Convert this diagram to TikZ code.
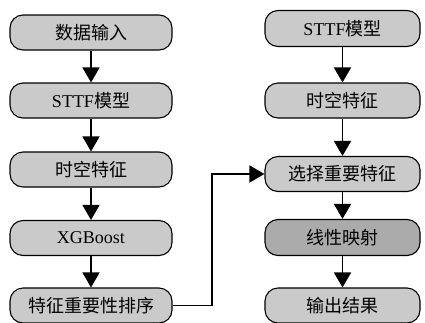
\documentclass[tikz,border=0pt]{standalone}
\usepackage{fontspec}
\setmainfont{Liberation Serif}
\newfontfamily\cjk{Noto Sans CJK SC}
\usetikzlibrary{arrows.meta}
\definecolor{boxfill}{HTML}{CACACA}
\definecolor{boxdark}{HTML}{ABABAB}
\tikzset{
  flowbox/.style={draw=black, line width=1.1pt, fill=boxfill, rounded corners=13pt,
    inner sep=0pt, font=\fontsize{18}{20}\selectfont},
  flowarrow/.style={line width=1.6pt, -{Triangle[width=17pt,length=15pt]}}
}
\begin{document}
\begin{tikzpicture}[x=1pt,y=-1pt]
\useasboundingbox (0,0) rectangle (425,322);
% left column
\node[flowbox, minimum width=162pt, minimum height=35pt] (l1) at (91,32.5) {\cjk 数据输入};
\node[flowbox, minimum width=162pt, minimum height=35pt] (l2) at (91,100.5) {STTF\cjk 模型};
\node[flowbox, minimum width=162pt, minimum height=35pt] (l3) at (91,169.5) {\cjk 时空特征};
\node[flowbox, minimum width=162pt, minimum height=35pt] (l4) at (91,238) {XGBoost};
\node[flowbox, minimum width=162pt, minimum height=35pt] (l5) at (91,305.5) {\cjk 特征重要性排序};
% right column
\node[flowbox, minimum width=155pt, minimum height=36pt] (r1) at (342.5,28.5) {STTF\cjk 模型};
\node[flowbox, minimum width=155pt, minimum height=35pt] (r2) at (342.5,100.5) {\cjk 时空特征};
\node[flowbox, minimum width=155pt, minimum height=35pt] (r3) at (342.5,174) {\cjk 选择重要特征};
\node[flowbox, fill=boxdark, minimum width=155pt, minimum height=36pt] (r4) at (342.5,237.5) {\cjk 线性映射};
\node[flowbox, minimum width=155pt, minimum height=35pt] (r5) at (342.5,305.5) {\cjk 输出结果};
% arrows
\draw[flowarrow] (l1) -- (l2);
\draw[flowarrow] (l2) -- (l3);
\draw[flowarrow] (l3) -- (l4);
\draw[flowarrow] (l4) -- (l5);
\draw[flowarrow] (r1) -- (r2);
\draw[flowarrow] (r2) -- (r3);
\draw[flowarrow] (r3) -- (r4);
\draw[flowarrow] (r4) -- (r5);
\coordinate (bend) at (212,174);
\draw[flowarrow] (l5.east) -| (bend) -- (r3.west);
\end{tikzpicture}
\end{document}
